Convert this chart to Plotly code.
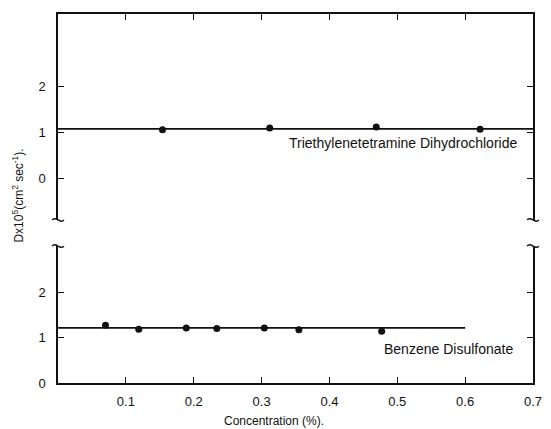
import plotly.graph_objects as go

# Data
x_ticks = [0.1, 0.2, 0.3, 0.4, 0.5, 0.6, 0.7]
x_tick_labels = ["0.1", "0.2", "0.3", "0.4", "0.5", "0.6", "0.7"]
y_ticks = [0, 1, 2]
y_tick_labels = ["0", "1", "2"]

tri_x = [0.154, 0.312, 0.469, 0.622]
tri_y = [1.05, 1.09, 1.11, 1.065]
tri_line_x = [0.0, 0.7]
tri_line_y = [1.07, 1.07]

benz_x = [0.070, 0.119, 0.189, 0.234, 0.304, 0.355, 0.477]
benz_y = [1.27, 1.18, 1.21, 1.20, 1.21, 1.17, 1.14]
benz_line_x = [0.0, 0.6]
benz_line_y = [1.21, 1.21]

FONT = "Liberation Sans"
BLACK = "#111111"

fig = go.Figure()

fig.add_trace(go.Scatter(x=tri_line_x, y=tri_line_y, mode="lines",
                         line=dict(color=BLACK, width=1.8),
                         xaxis="x2", yaxis="y2", showlegend=False))
fig.add_trace(go.Scatter(x=tri_x, y=tri_y, mode="markers",
                         marker=dict(color=BLACK, size=7),
                         xaxis="x2", yaxis="y2", showlegend=False))
fig.add_trace(go.Scatter(x=benz_line_x, y=benz_line_y, mode="lines",
                         line=dict(color=BLACK, width=1.8),
                         xaxis="x", yaxis="y", showlegend=False))
fig.add_trace(go.Scatter(x=benz_x, y=benz_y, mode="markers",
                         marker=dict(color=BLACK, size=7),
                         xaxis="x", yaxis="y", showlegend=False))

axis_common = dict(showgrid=False, zeroline=False, showline=True,
                   linecolor=BLACK, linewidth=1.5, ticks="inside",
                   ticklen=6, tickwidth=1.3, tickcolor=BLACK,
                   tickfont=dict(family=FONT, size=13, color=BLACK))

TOP_DOMAIN = [0.442, 1]
BOT_DOMAIN = [0, 0.371]

fig.update_layout(
    width=551, height=429,
    margin=dict(l=58, r=9, t=14, b=46),
    paper_bgcolor="white", plot_bgcolor="white",
    showlegend=False,
    xaxis=dict(axis_common, range=[0, 0.7], anchor="y",
               tickvals=x_ticks, ticktext=x_tick_labels,
               ticklabelstandoff=6),
    xaxis2=dict(axis_common, range=[0, 0.7], anchor="y2", side="top",
                matches="x", tickvals=x_ticks, showticklabels=False),
    yaxis=dict(axis_common, domain=BOT_DOMAIN, range=[0, 3.01],
               tickvals=y_ticks, ticktext=y_tick_labels, mirror="ticks",
               ticklabelstandoff=8),
    yaxis2=dict(axis_common, domain=TOP_DOMAIN, range=[-0.91, 3.57],
                tickvals=y_ticks, ticktext=y_tick_labels, mirror="ticks",
                ticklabelstandoff=8),
)

annotations = [
    dict(text="Triethylenetetramine Dihydrochloride", x=0.508, y=0.76,
         xref="x2", yref="y2", showarrow=False,
         font=dict(family=FONT, size=14, color=BLACK)),
    dict(text="Benzene Disulfonate", x=0.576, y=0.75,
         xref="x", yref="y", showarrow=False,
         font=dict(family=FONT, size=14, color=BLACK)),
    dict(text="Concentration (%).", x=0.455, y=-0.103,
         xref="paper", yref="paper", showarrow=False,
         xanchor="center", yanchor="middle",
         font=dict(family=FONT, size=12, color=BLACK)),
    dict(text="Dx10<sup>5</sup>(cm<sup>2</sup> sec<sup>-1</sup>).",
         x=-0.085, y=0.507, xref="paper", yref="paper", showarrow=False,
         xanchor="center", yanchor="middle",
         textangle=-90, font=dict(family=FONT, size=12, color=BLACK)),
]
fig.update_layout(annotations=annotations)

# axis-break marks (small tildes drawn as paths in paper coordinates)
PX = 1 / 484.0
PY = 1 / 369.0
shapes = []
for xp in [0, 1]:
    for yp in [TOP_DOMAIN[0], BOT_DOMAIN[1]]:
        x0, x1 = xp - 6 * PX, xp + 6 * PX
        path = (f"M {x0},{yp} C {xp - 2 * PX},{yp + 5 * PY} "
                f"{xp + 2 * PX},{yp - 5 * PY} {x1},{yp}")
        shapes.append(dict(type="path", path=path, xref="paper", yref="paper",
                           line=dict(color=BLACK, width=1.5)))
fig.update_layout(shapes=shapes)

fig.write_html("out.html")
